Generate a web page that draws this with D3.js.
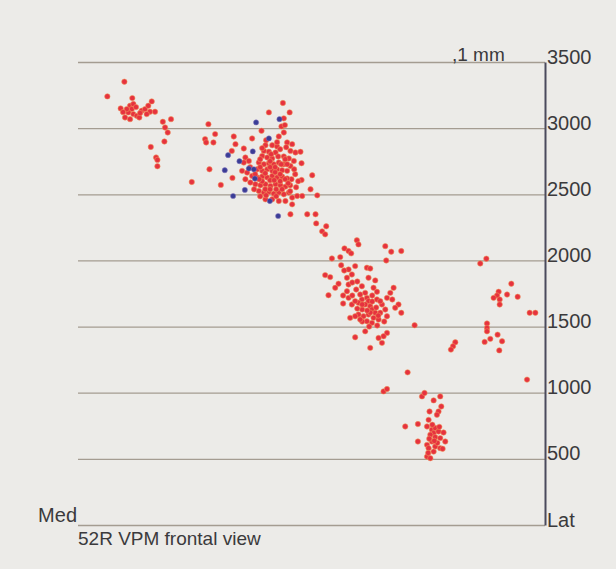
<!DOCTYPE html>
<html>
<head>
<meta charset="utf-8">
<script src="https://cdn.jsdelivr.net/npm/d3@7"></script>
<style>
  html, body { margin: 0; padding: 0; background: #ecebe8; }
  svg { display: block; }
  text { font-family: "Liberation Sans", Arial, sans-serif; fill: #3b3a3c; }
</style>
</head>
<body>
<svg id="chart" width="616" height="569"></svg>
<script>
// Cell positions in µm: [medio-lateral, dorso-ventral]
const medialCells = [
  [336,3351],[207,3240],[396,3227],[308,3149],[379,3169],[392,3144],[366,3119],[404,3106],
  [379,3068],[430,3093],[467,3131],[492,3144],[517,3169],[543,3202],[530,3124],[568,3124],
  [505,3106],[449,3081],[354,3144],[404,3182],[341,3081],[424,3159],[455,3114],[326,3121],
  [627,3048],[689,3068],[644,3005],[664,2967],[639,2899],[536,2858],[576,2778],[586,2760],[586,2712]
];

const dorsalCells = [
  [972,3030],[1023,2955],[947,2917],[955,2892],[1010,2892],[980,2689],[846,2593],[1066,2571],
  [1164,2937],[1177,2879],[1149,2828],[1240,2846],[1154,2624],[1303,2922],[1374,2980],[1430,3119],
  [1536,3190],[1587,3119],[1543,3074],[1525,3013],[1551,3023],[1543,2967],[1505,2937],[1568,2892],
  [1606,2879],[1404,2871],[1455,2871],[1492,2861],[1392,2828],[1430,2821],[1480,2816],[1593,2828],
  [1631,2816],[1669,2821],[1379,2790],[1417,2778],[1455,2771],[1500,2786],[1543,2786],[1581,2771],
  [1619,2752],[1252,2778],[1278,2752],[1240,2740],[1354,2740],[1392,2727],[1430,2735],[1467,2727],
  [1505,2740],[1543,2727],[1677,2735],[1593,2714],[1341,2689],[1379,2677],[1417,2689],[1455,2677],
  [1492,2689],[1530,2682],[1568,2677],[1227,2677],[1265,2664],[1601,2614],[1758,2644],[1303,2639],
  [1341,2627],[1379,2634],[1417,2627],[1455,2639],[1492,2627],[1530,2634],[1568,2619],[1252,2614],
  [1290,2589],[1677,2608],[1328,2576],[1366,2568],[1404,2576],[1442,2563],[1480,2576],[1517,2568],
  [1555,2558],[1745,2538],[1354,2525],[1392,2513],[1430,2518],[1467,2505],[1505,2513],[1543,2500],
  [1581,2513],[1606,2475],[1644,2487],[1682,2487],[1796,2492],[1404,2462],[1455,2462],[1505,2449],
  [1555,2449],[1606,2424],[1593,2349],[1720,2349],[1783,2349],[1833,2220],[1788,2280],[1864,2258],
  [1364,2765],[1439,2705],[1477,2667],[1515,2599],[1402,2538],[1326,2652],[1553,2614],[1379,2599],
  [1439,2606],[1485,2538],[1591,2568],[1288,2705],[1629,2652],[1636,2553],[1364,2485],
  [1364,2705],[1402,2659],[1439,2750],[1477,2705],[1515,2652],[1553,2765],[1439,2538],[1485,2485],
  [1530,2538],[1576,2583],[1356,2614],[1409,2492],[1470,2606],[1379,2849],[1515,2841],[1561,2856],
  [1621,2689],[1652,2599],[1318,2538],[1591,2523],[1447,2803],[1492,2894],[1409,2909],[1523,2727],
  [1568,2727]
];

// Cells of the second population (drawn in blue)
const blueCells = [
  [1333,3043],[1510,3068],[1430,2922],[1308,2824],[1121,2796],[1207,2750],[1096,2682],[1278,2695],
  [1316,2689],[1324,2619],[1248,2533],[1159,2487],[1437,2449],[1500,2336]
];

const centralCells = [
  [1856,2197],[2096,2152],[2108,2121],[2311,2108],[2356,2066],[2432,2071],[2002,2091],[2033,2071],
  [2053,2053],[1907,2015],[1970,2025],[2318,2000],[1977,1964],[2033,1932],[2083,1957],[2172,1945],
  [2197,1939],[1856,1889],[1894,1874],[2058,1894],[2184,1869],[1957,1824],[1932,1793],[1881,1737],
  [2235,1849],[2021,1869],[2033,1818],[2021,1767],[2033,1717],[2058,1667],[2134,1805],[2222,1793],
  [2248,1763],[2374,1793],[2349,1755],[2324,1717],[2159,1755],[2172,1717],[2184,1692],[2159,1667],
  [2197,1654],[2210,1629],[2235,1604],[2184,1591],[2222,1566],[2260,1553],[2146,1578],[2108,1591],
  [2083,1578],[2045,1566],[2172,1540],[2210,1528],[2159,1464],[2286,1667],[2311,1629],[2273,1604],
  [2324,1578],[2411,1667],[2386,1642],[2432,1604],[2533,1510],[2324,1452],[2298,1427],[2260,1414],
  [2286,1377],[2083,1419],[2197,1339],[2134,1705],[2108,1680],[2083,1692],[2248,1705],[2273,1692],
  [2136,1629],[2121,1742],[2091,1780],[2212,1735],[2242,1644],[2136,1538],[2250,1508],[2061,1833],
  [1992,1674],[2099,1636],[2197,1606],
  [2136,1667],[2174,1621],[2212,1689],[2258,1583],[2121,1553],[2189,1500],[2061,1735],[1992,1735],
  [2303,1538],[2364,1705],[2099,1841],[2000,1924]
];

const ventralCells = [
  [2480,1154],[2298,1010],[2324,1028],[2589,972],[2608,998],[2677,942],[2727,972],[2735,896],
  [2714,858],[2702,833],[2646,858],[2639,795],[2462,745],[2558,763],[2627,745],[2664,720],
  [2689,733],[2677,695],[2714,707],[2752,699],[2652,682],[2689,664],[2727,657],[2765,631],
  [2664,631],[2627,606],[2639,581],[2689,593],[2727,581],[2677,555],[2627,517],[2652,505],
  [2558,631],[2745,576],[2705,621],[2644,652],[2667,758],[2682,636],[2720,742],[2636,545]
];

const lateralCells = [
  [3030,1977],[3076,2013],[3265,1824],[3169,1763],[3157,1735],[3131,1717],[3177,1705],[3177,1667],
  [3233,1742],[3313,1725],[3404,1604],[3447,1604],[3081,1523],[3081,1490],[3081,1464],[3161,1439],
  [3106,1407],[3063,1384],[3195,1389],[2841,1381],[2824,1351],[2808,1326],[3174,1320],[3384,1099]
];

const depthTicks = [0, 500, 1000, 1500, 2000, 2500, 3000, 3500];

const svg = d3.select("#chart");

const x = d3.scaleLinear().domain([0, 3520]).range([80, 545]);
const y = d3.scaleLinear().domain([0, 3500]).range([525, 62]);

// Horizontal depth lines, drawn from the lateral axis toward the medial side
const grid = svg.append("g")
  .attr("transform", `translate(${x(3520)},0)`)
  .call(d3.axisLeft(y).tickValues(depthTicks).tickSize(x(3520) - x(0) + 2).tickFormat(""));
grid.select(".domain").remove();
grid.selectAll(".tick line")
  .attr("stroke", "#a49c91")
  .attr("stroke-width", 1.3);

// Lateral depth axis with labels; the zero level is the lateral edge
const axis = svg.append("g")
  .attr("transform", `translate(${x(3520)},0)`)
  .call(d3.axisRight(y).tickValues(depthTicks).tickSize(0).tickPadding(2)
    .tickFormat(d => d === 0 ? "Lat" : d3.format("d")(d)));
axis.select(".domain")
  .attr("stroke", "#4a4a5c")
  .attr("stroke-width", 2);
axis.selectAll(".tick text")
  .attr("dy", null)
  .attr("y", 1)
  .style("font-size", "20px")
  .style("font-family", "'Liberation Sans', Arial, sans-serif")
  .attr("fill", "#3b3a3c");

// Red cells
const redCells = [...medialCells, ...dorsalCells, ...centralCells, ...ventralCells, ...lateralCells];
svg.append("g").selectAll("circle")
  .data(redCells)
  .join("circle")
  .attr("cx", d => x(d[0]))
  .attr("cy", d => y(d[1]))
  .attr("r", 2.7)
  .attr("fill", "#e6323f")
  .attr("stroke", "#f0955a")
  .attr("stroke-opacity", 0.55)
  .attr("stroke-width", 1);

// Blue cells
svg.append("g").selectAll("circle")
  .data(blueCells)
  .join("circle")
  .attr("cx", d => x(d[0]))
  .attr("cy", d => y(d[1]))
  .attr("r", 2.6)
  .attr("fill", "#3a3d96")
  .attr("stroke", "#8a78c0")
  .attr("stroke-opacity", 0.5)
  .attr("stroke-width", 1);

// Scale note, medial label and caption
svg.append("text")
  .attr("x", 452).attr("y", 61)
  .style("font-size", "19px")
  .text(",1 mm");

svg.append("text")
  .attr("x", 77).attr("y", 522)
  .attr("text-anchor", "end")
  .style("font-size", "20px")
  .text("Med");

svg.append("text")
  .attr("x", 78).attr("y", 545)
  .style("font-size", "19px")
  .text("52R VPM frontal view");
</script>
</body>
</html>
